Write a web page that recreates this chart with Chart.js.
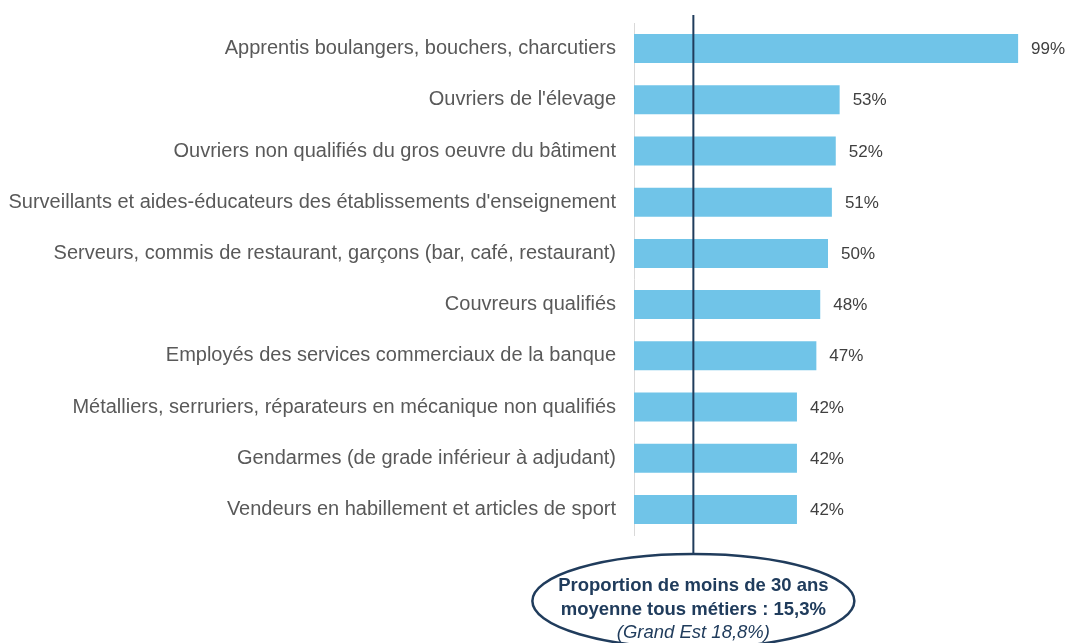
<!DOCTYPE html>
<html>
<head>
<meta charset="utf-8">
<script src="https://cdn.jsdelivr.net/npm/chart.js@4"></script>
<style>
  body { margin: 0; background: #fff; }
  #wrap { width: 1068px; height: 643px; }
</style>
</head>
<body>
<div id="wrap"><canvas id="myChart"></canvas></div>
<script>
const metiers = [
    "Apprentis boulangers, bouchers, charcutiers",
    "Ouvriers de l'élevage",
    "Ouvriers non qualifiés du gros oeuvre du bâtiment",
    "Surveillants et aides-éducateurs des établissements d'enseignement",
    "Serveurs, commis de restaurant, garçons (bar, café, restaurant)",
    "Couvreurs qualifiés",
    "Employés des services commerciaux de la banque",
    "Métalliers, serruriers, réparateurs en mécanique non qualifiés",
    "Gendarmes (de grade inférieur à adjudant)",
    "Vendeurs en habillement et articles de sport"
];
const partMoins30 = [99, 53, 52, 51, 50, 48, 47, 42, 42, 42];
const moyenne = 15.3;
const noteLines = [
    "Proportion de moins de 30 ans",
    "moyenne tous métiers : 15,3%",
    "(Grand Est 18,8%)"
];

const grey = '#595959';
const navy = '#203c5c';
const fontFam = '"Liberation Sans", Arial, sans-serif';

// percentages at the end of the bars
const valueLabels = {
    id: 'valueLabels',
    afterDatasetsDraw(chart) {
        const ctx = chart.ctx;
        const meta = chart.getDatasetMeta(0);
        ctx.save();
        ctx.font = '17px ' + fontFam;
        ctx.fillStyle = '#404040';
        ctx.textBaseline = 'middle';
        meta.data.forEach((bar, i) => {
            ctx.fillText(partMoins30[i] + '%', bar.x + 13, bar.y + 1);
        });
        ctx.restore();
    }
};

// average line + ellipse note
const moyenneNote = {
    id: 'moyenneNote',
    afterDraw(chart) {
        const ctx = chart.ctx;
        const x = chart.scales.x.getPixelForValue(moyenne);
        const cy = 601, ry = 47, rx = 161;
        ctx.save();
        ctx.strokeStyle = navy;
        ctx.lineWidth = 2;
        ctx.beginPath();
        ctx.moveTo(x, 15);
        ctx.lineTo(x, cy - ry);
        ctx.stroke();
        ctx.lineWidth = 2.5;
        ctx.beginPath();
        ctx.ellipse(x, cy, rx, ry, 0, 0, Math.PI * 2);
        ctx.stroke();
        ctx.fillStyle = navy;
        ctx.textAlign = 'center';
        ctx.textBaseline = 'middle';
        ctx.font = 'bold 18.5px ' + fontFam;
        ctx.fillText(noteLines[0], x, 586);
        ctx.fillText(noteLines[1], x, 610);
        ctx.font = 'italic 18.5px ' + fontFam;
        ctx.fillText(noteLines[2], x, 633);
        ctx.restore();
    }
};

const data = {
    labels: metiers,
    datasets: [{
        data: partMoins30,
        backgroundColor: '#70c4e8',
        barPercentage: 0.566,
        categoryPercentage: 1
    }]
};

const config = {
    type: 'bar',
    data: data,
    options: {
        indexAxis: 'y',
        responsive: true,
        maintainAspectRatio: false,
        animation: false,
        layout: {
            padding: { left: 0, right: 46, top: 23, bottom: 108 }
        },
        plugins: {
            legend: { display: false },
            tooltip: { enabled: false }
        },
        scales: {
            x: {
                display: false,
                min: 0,
                max: 100
            },
            y: {
                grid: { display: false },
                border: { display: true, color: '#d9d9d9', width: 1 },
                ticks: {
                    color: grey,
                    padding: 10,
                    font: { family: fontFam, size: 20 }
                },
                afterFit(scale) {
                    scale.width = 634;
                }
            }
        }
    },
    plugins: [valueLabels, moyenneNote]
};

const myChart = new Chart(document.getElementById('myChart'), config);
</script>
</body>
</html>
